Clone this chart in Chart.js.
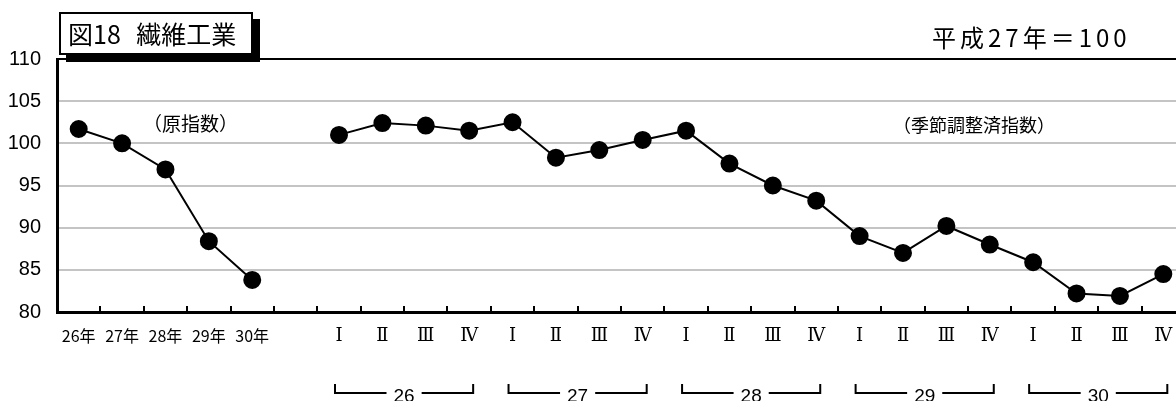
<!DOCTYPE html>
<html lang="ja">
<head>
<meta charset="utf-8">
<script src="https://cdn.jsdelivr.net/npm/chart.js@4.4.1/dist/chart.umd.min.js"></script>
<style>
html, body { margin:0; padding:0; background:#fff; overflow:hidden; }
#wrap { position:relative; width:1176px; height:401px; overflow:hidden; }
#mycanvas { position:absolute; left:0; top:0; }
.txt { position:absolute; font-family:"Noto Sans CJK JP", sans-serif; color:#000; white-space:nowrap; }
#title { left:59px; top:12px; width:194px; height:43px; box-sizing:border-box; border:2px solid #000; background:#fff;
         box-shadow:7px 7px 0 #000; font-size:25px; line-height:39px; padding-left:7px; word-spacing:10px; }
#unit { left:932px; top:24px; font-size:24px; line-height:26px; letter-spacing:4px; }
#lab1 { left:143px; top:112px; font-size:19px; line-height:22px; }
#lab2 { left:893px; top:113px; font-size:18px; line-height:22px; }
</style>
</head>
<body>
<div id="wrap">
  <canvas id="mycanvas" width="1195" height="401"></canvas>
  <div class="txt" id="title">図18 繊維工業</div>
  <div class="txt" id="unit">平成27年＝100</div>
  <div class="txt" id="lab1">（原指数）</div>
  <div class="txt" id="lab2">（季節調整済指数）</div>
</div>
<script>
// annual (original index)
var annualLabels = ['26年', '27年', '28年', '29年', '30年'];
var annualValues = [101.7, 100.0, 96.9, 88.4, 83.8];

// quarterly (seasonally adjusted)
var quarterLabels = ['Ⅰ', 'Ⅱ', 'Ⅲ', 'Ⅳ'];
var quarterYears = ['26', '27', '28', '29', '30'];
var quarterValues = [101.0, 102.4, 102.1, 101.5,
                     102.5, 98.3, 99.2, 100.4,
                     101.5, 97.6, 95.0, 93.2,
                     89.0, 87.0, 90.2, 88.0,
                     85.9, 82.2, 81.9, 84.5];

var yMin = 80, yMax = 110, yStep = 5;

var gap = [''];
var qStart = annualLabels.length + gap.length;
var labels = annualLabels.concat(gap);
quarterYears.forEach(function () { labels = labels.concat(quarterLabels); });

var annualData = labels.map(function (l, i) { return i < annualValues.length ? annualValues[i] : null; });
var quarterData = labels.map(function (l, i) { return i >= qStart ? quarterValues[i - qStart] : null; });

// inward ticks + year brackets under the quarter labels
var extras = {
    id: 'extras',
    afterDraw: function (chart) {
        var x = chart.scales.x, area = chart.chartArea, ctx = chart.ctx;
        var step = x.getPixelForValue(1) - x.getPixelForValue(0);
        ctx.save();
        ctx.strokeStyle = '#000';
        ctx.lineWidth = 2;
        ctx.beginPath();
        for (var i = 1; i < labels.length; i++) {
            var px = Math.round(x.getPixelForValue(i) - step / 2);
            ctx.moveTo(px, area.bottom);
            ctx.lineTo(px, area.bottom - 6);
        }
        ctx.stroke();

        ctx.font = '19px "Liberation Sans", Arial, sans-serif';
        ctx.fillStyle = '#000';
        ctx.textAlign = 'center';
        ctx.textBaseline = 'alphabetic';
        var yb = area.bottom + 81, yt = area.bottom + 72;
        quarterYears.forEach(function (yr, k) {
            var first = qStart + k * quarterLabels.length;
            var last = first + quarterLabels.length - 1;
            var x0 = x.getPixelForValue(first) - 4;
            var x1 = x.getPixelForValue(last) + 4;
            var cx = (x0 + x1) / 2;
            var half = ctx.measureText(yr).width / 2 + 7;
            ctx.beginPath();
            ctx.moveTo(x0, yt); ctx.lineTo(x0, yb); ctx.lineTo(cx - half, yb);
            ctx.moveTo(cx + half, yb); ctx.lineTo(x1, yb); ctx.lineTo(x1, yt);
            ctx.stroke();
            ctx.fillText(yr, cx, area.bottom + 90);
        });
        ctx.restore();
    }
};

var lineStyle = {
    borderColor: '#000',
    backgroundColor: '#000',
    borderWidth: 2,
    pointRadius: 8,
    pointHoverRadius: 8,
    pointBackgroundColor: '#000',
    pointBorderColor: '#000',
    spanGaps: false,
    tension: 0
};

var ctx_live = document.getElementById('mycanvas');
var myChart = new Chart(ctx_live, {
    type: 'line',
    data: {
        labels: labels,
        datasets: [
            Object.assign({ label: '原指数', data: annualData }, lineStyle),
            Object.assign({ label: '季節調整済指数', data: quarterData }, lineStyle)
        ]
    },
    options: {
        responsive: false,
        animation: false,
        devicePixelRatio: 1,
        layout: { padding: { top: 59, right: 0, left: 0, bottom: 0 } },
        plugins: {
            legend: { display: false },
            title: { display: false },
            tooltip: { enabled: false }
        },
        scales: {
            x: {
                offset: true,
                grid: { display: false },
                border: { display: true, color: '#000', width: 3 },
                ticks: {
                    autoSkip: false,
                    maxRotation: 0,
                    padding: 6,
                    color: '#000',
                    font: function (c) {
                        return c.index >= qStart
                            ? { family: '"DejaVu Serif", serif', size: 18 }
                            : { family: '"Noto Sans CJK JP", sans-serif', size: 16 };
                    }
                },
                afterFit: function (s) { s.height = 89; }
            },
            y: {
                min: yMin,
                max: yMax,
                ticks: {
                    stepSize: yStep,
                    padding: 16,
                    color: '#000',
                    font: { family: '"Liberation Sans", Arial, sans-serif', size: 20 }
                },
                grid: {
                    drawTicks: false,
                    lineWidth: 2,
                    color: function (c) { return c.tick && c.tick.value === yMax ? '#000' : '#c4c4c4'; }
                },
                border: { display: true, color: '#000', width: 3 },
                afterFit: function (s) { s.width = 57; }
            }
        }
    },
    plugins: [extras]
});
</script>
</body>
</html>
